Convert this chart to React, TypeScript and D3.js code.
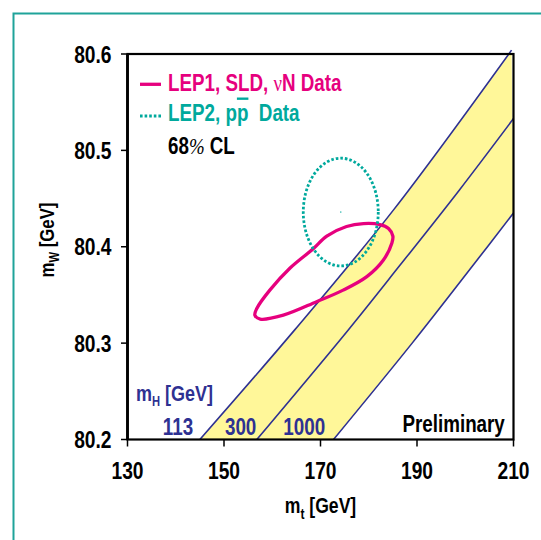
import React from 'react';
import * as d3 from 'd3';

// axis ticks
const mtTicks = [130, 150, 170, 190, 210];
const mwTicks = [80.2, 80.3, 80.4, 80.5, 80.6];

// SM bands, mW vs mt for three Higgs masses [mt, mW]
const mH113: [number, number][] = [[145.0, 80.2], [164.7, 80.314], [185.1, 80.438], [209.6, 80.604]];
const mH300: [number, number][] = [[156.8, 80.2], [175.8, 80.314], [186.5, 80.381], [198.8, 80.459], [210, 80.533]];
const mH1000: [number, number][] = [[172.7, 80.2], [189.0, 80.3], [201.5, 80.38], [210, 80.435]];

// LEP1, SLD, nuN 68% contour [mt, mW]
const lep1Contour: [number, number][] = [
  [156.4, 80.329], [157.5, 80.325], [162.3, 80.329], [169.2, 80.343], [174.7, 80.355],
  [179.6, 80.369], [183.0, 80.386], [184.8, 80.404], [185.0, 80.411], [184.1, 80.419],
  [182.3, 80.423], [178.9, 80.424], [175.4, 80.421], [171.3, 80.411], [168.5, 80.398],
  [163.7, 80.378], [159.5, 80.355], [156.8, 80.336],
];

// LEP2, ppbar direct measurement: centre and 68% CL half-widths
const lep2Center = { mt: 174.2, mw: 80.436 };
const lep2Radius = { mt: 7.77, mw: 0.0559 };

const mhLabels = ['113', '300', '1000'];

const W = 541;
const H = 540;
const margin = { top: 54, right: 27.5, bottom: 100.5, left: 127.5 };

const MAGENTA = '#e6007e';
const TEAL = '#00a99d';
const NAVY = '#2e3192';
const YELLOW = '#fff799';
const FONT = "'Liberation Sans', Arial, sans-serif";
const NARROW = 0.8; // no narrow font installed, squeeze the bold sans instead

// condensed text: squeeze horizontally around the anchor point
function NText({ x, y, rotate = 0, anchor = 'start', size = 23, fill = '#000', style, children }: any) {
  return (
    <text transform={`translate(${x},${y}) rotate(${rotate}) scale(${NARROW},1)`}
      textAnchor={anchor} fontSize={size} fill={fill} style={style}>
      {children}
    </text>
  );
}

export default function App() {
  const x = d3.scaleLinear().domain([130, 210]).range([margin.left, W - margin.right]);
  const y = d3.scaleLinear().domain([80.2, 80.6]).range([H - margin.bottom, margin.top]);

  const line = d3.line<[number, number]>()
    .x(d => x(d[0]))
    .y(d => y(d[1]))
    .curve(d3.curveCatmullRom);

  const contour = d3.line<[number, number]>()
    .x(d => x(d[0]))
    .y(d => y(d[1]))
    .curve(d3.curveCatmullRomClosed.alpha(0.5));

  const bandPath = (line(mH113) || '') + 'L' +
    (line(mH1000.slice().reverse()) || '').slice(1) + 'Z';

  const x0 = x(130), x1 = x(210), y0 = y(80.2), y1 = y(80.6);

  return (
    <svg width={W} height={H} style={{ position: 'absolute', left: 0, top: 0, background: '#fff' }}
      fontFamily={FONT} fontWeight="bold">
      <defs>
        <clipPath id="plot">
          <rect x={x0} y={y1} width={x1 - x0} height={y0 - y1} />
        </clipPath>
      </defs>

      {/* outer frame */}
      <rect x={13.5} y={13.5} width={600} height={600} fill="none" stroke="#1fa39a" strokeWidth={2} />

      {/* yellow band */}
      <path d={bandPath} fill={YELLOW} clipPath="url(#plot)" />
      {[mH113, mH300, mH1000].map((d, i) => (
        <path key={i} d={line(d) || ''} fill="none" stroke={NAVY} strokeWidth={1.6} />
      ))}

      {/* contours */}
      <path d={contour(lep1Contour) || ''} fill="none" stroke={MAGENTA} strokeWidth={3.3} />
      <ellipse cx={x(lep2Center.mt)} cy={y(lep2Center.mw)}
        rx={x(130 + lep2Radius.mt) - x(130)} ry={y(80.2) - y(80.2 + lep2Radius.mw)}
        fill="none" stroke={TEAL} strokeWidth={2.8} strokeDasharray="2.6 2" />
      <rect x={x(lep2Center.mt) - 0.6} y={y(lep2Center.mw) - 0.6} width={1.2} height={1.2} fill={TEAL} />

      {/* frame */}
      <rect x={x0} y={y1} width={x1 - x0} height={y0 - y1} fill="none" stroke="#000" strokeWidth={2.2} />
      <line x1={x0} x2={x0} y1={y1} y2={y0} stroke="#000" strokeWidth={2.8} />

      {/* y axis */}
      {mwTicks.map(t => (
        <g key={t}>
          <line x1={x0 - 6.5} x2={x0} y1={y(t)} y2={y(t)} stroke="#000" strokeWidth={1.5} />
          <NText x={x0 - 16} y={y(t) + 8.6} anchor="end" size={24}>{t.toFixed(1)}</NText>
        </g>
      ))}
      {/* x axis */}
      {mtTicks.map(t => (
        <g key={t}>
          <line x1={x(t)} x2={x(t)} y1={y0} y2={y0 + 7} stroke="#000" strokeWidth={1.5} />
          <NText x={x(t)} y={y0 + 39} anchor="middle" size={24}>{t}</NText>
        </g>
      ))}

      {/* axis titles */}
      <NText x={(x0 + x1) / 2} y={513} anchor="middle" size={22}>
        m<tspan fontSize={15} dy={6}>t</tspan><tspan dy={-6}> [GeV]</tspan>
      </NText>
      <NText x={53.5} y={240} rotate={-90} anchor="middle" size={21}>
        m<tspan fontSize={14} dy={5}>W</tspan><tspan dy={-5}> [GeV]</tspan>
      </NText>

      {/* legend */}
      <line x1={140} x2={161} y1={84.3} y2={84.3} stroke={MAGENTA} strokeWidth={3.3} />
      <NText x={168} y={91} size={23.5} fill={MAGENTA}>
        LEP1, SLD, <tspan fontFamily="'Liberation Serif', serif" fontWeight="normal">ν</tspan>N Data
      </NText>
      <line x1={140} x2={161} y1={116} y2={116} stroke={TEAL} strokeWidth={2.8} strokeDasharray="2.6 2" />
      <NText x={168} y={120.7} size={23.5} fill={TEAL} style={{ whiteSpace: 'pre' }}>
        LEP2, p<tspan style={{ textDecoration: 'overline' }}>p</tspan>{'  Data'}
      </NText>
      <NText x={168} y={153.5} size={23.5}>
        68<tspan fontFamily="'Liberation Serif', serif" fontStyle="italic" fontWeight="normal">%</tspan> CL
      </NText>

      {/* Higgs mass labels */}
      <NText x={136} y={400.7} size={22.5} fill={NAVY}>
        m<tspan fontSize={14} dy={5}>H</tspan><tspan dy={-5}> [GeV]</tspan>
      </NText>
      <NText x={x(143.6)} y={435} anchor="end" size={23.5} fill={NAVY}>{mhLabels[0]}</NText>
      <NText x={x(150.2)} y={435} size={23.5} fill={NAVY}>{mhLabels[1]}</NText>
      <NText x={x(162.3)} y={435} size={23.5} fill={NAVY}>{mhLabels[2]}</NText>
      <NText x={x(208.2)} y={431.7} anchor="end" size={23.5}>Preliminary</NText>
    </svg>
  );
}
